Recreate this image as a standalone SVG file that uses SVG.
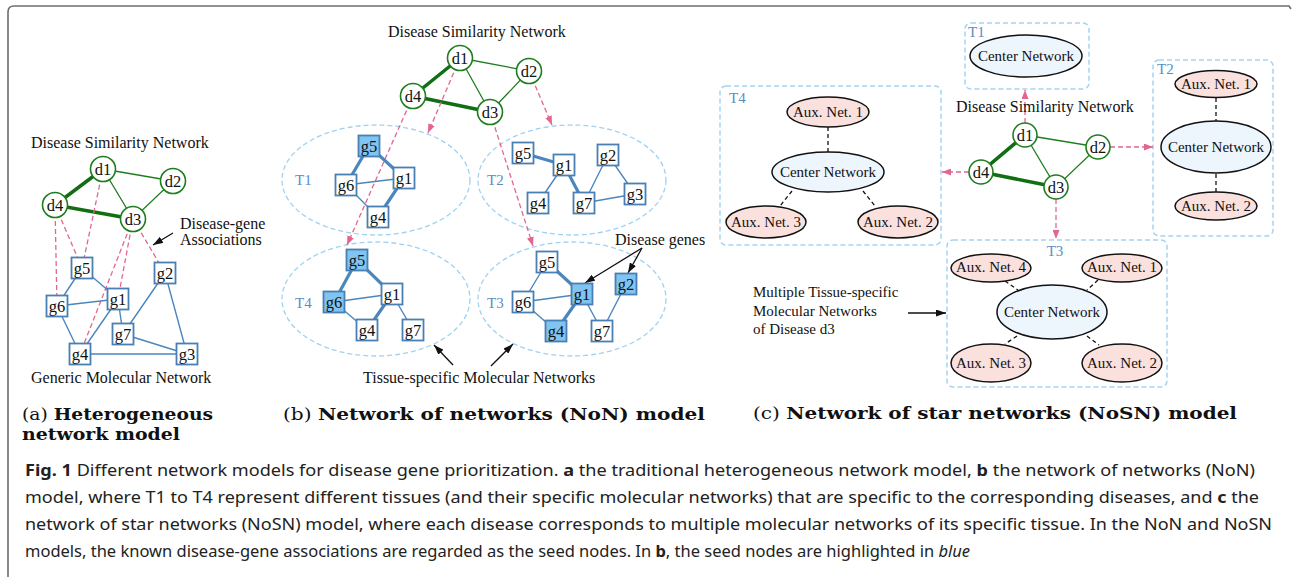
<svg xmlns="http://www.w3.org/2000/svg" width="1292" height="577" viewBox="0 0 1292 577">
<style>
text{font-family:"Liberation Serif","Times New Roman",serif;fill:#111}
.lbl{font-size:16px}
.nl{font-size:16.5px;text-anchor:middle}
.dn{fill:#fff;stroke:#1e7d1e;stroke-width:1.6}
.gb{fill:#fff;stroke:#4a7fb3;stroke-width:1.8}
.gf{fill:#80c4f1;stroke:#4a7fb3;stroke-width:1.8}
.eg{stroke:#1e7d1e;stroke-width:1.3;fill:none}
.egt{stroke:#126e12;stroke-width:3.5;fill:none}
.ge{stroke:#4b86bc;stroke-width:1.4;fill:none}
.get{stroke:#4b86bc;stroke-width:3.2;fill:none}
.pk{stroke:#e2668f;stroke-width:1.3;stroke-dasharray:5 3;fill:none}
.pka{stroke:#e2668f;stroke-width:1.3;stroke-dasharray:5 3;fill:none;marker-end:url(#pa)}
.tis{fill:none;stroke:#9fd2f1;stroke-width:1.3;stroke-dasharray:5 3}
.tl{font-size:15px;fill:#5a8ec2}
.bx{fill:none;stroke:#a3d4f3;stroke-width:1.5;stroke-dasharray:5 3}
.cn{fill:#edf5fd;stroke:#111;stroke-width:1.5}
.ax{fill:#fbe1de;stroke:#111;stroke-width:1.5}
.bd{stroke:#111;stroke-width:1.3;stroke-dasharray:4 3;fill:none}
.ar{stroke:#111;stroke-width:1.3;fill:none;marker-end:url(#ba)}
.ct{font-size:15px;text-anchor:middle}
.ml{font-size:15px}
.sub{font-family:"DejaVu Serif","Liberation Serif",serif;font-size:17px}
.cap{font-family:"Noto Sans","Liberation Sans",sans-serif;font-size:15.5px;fill:#222}
</style>
<defs>
<marker id="pa" markerWidth="9" markerHeight="7" refX="9" refY="3.5" orient="auto" markerUnits="userSpaceOnUse"><path d="M0,0 L9,3.5 L0,7 Z" fill="#e2668f"/></marker>
<marker id="ba" markerWidth="10" markerHeight="7" refX="10" refY="3.5" orient="auto" markerUnits="userSpaceOnUse"><path d="M0,0 L10,3.5 L0,7 Z" fill="#111"/></marker>
</defs>
<rect width="1292" height="577" fill="#fff"/>
<path d="M8,577 L8,12 Q8,6 14,6 L1289,6 L1291,9" fill="none" stroke="#6d6d6d" stroke-width="1.6"/>

<!-- tissue containers (b) -->
<g id="b-T1"><ellipse class="tis" cx="376" cy="180" rx="94" ry="55"/><text class="tl" x="295" y="185">T1</text></g>
<g id="b-T2"><ellipse class="tis" cx="572" cy="180" rx="94" ry="55"/><text class="tl" x="487" y="185">T2</text></g>
<g id="b-T4"><ellipse class="tis" cx="376" cy="299" rx="94" ry="57"/><text class="tl" x="295" y="308">T4</text></g>
<g id="b-T3"><ellipse class="tis" cx="572" cy="299" rx="94" ry="57"/><text class="tl" x="487" y="308">T3</text></g>

<!-- tissue boxes (c) -->
<g id="c-T1box"><rect class="bx" x="965" y="23" width="124" height="66" rx="6"/><text class="tl" x="968" y="37">T1</text></g>
<g id="c-T2box"><rect class="bx" x="1153" y="60" width="120" height="176" rx="6"/><text class="tl" x="1157" y="74">T2</text></g>
<g id="c-T4box"><rect class="bx" x="720" y="86" width="221" height="159" rx="6"/><text class="tl" x="729" y="103">T4</text></g>
<g id="c-T3box"><rect class="bx" x="947" y="240" width="220" height="147" rx="6"/><text class="tl" x="1055" y="256" text-anchor="middle">T3</text></g>

<g id="connectors">
<!-- panel a -->
<path class="egt" d="M103,169 L55,205 L133,219"/>
<path class="eg" d="M103,169 L173,181 L133,219 L103,169"/>
<path class="pk" d="M103,169 L82,268 M55,205 L82,268 M55,205 L57,306 M133,219 L80,354 M133,219 L118,299 M133,219 L165,273"/>
<path class="ge" d="M82,268 L57,306 M82,268 L118,299 M57,306 L118,299 M57,306 L80,354 M118,299 L80,354 M118,299 L123,334 M165,273 L123,334 M165,273 L187,354 M123,334 L187,354 M80,354 L187,354"/>
<path class="ar" d="M173,233 L153,245"/>
<!-- panel b -->
<path class="egt" d="M460,58 L413,96 L490,112"/>
<path class="eg" d="M460,58 L529,71 L490,112 L460,58"/>
<path class="pka" d="M460,58 L428,133"/>
<path class="pka" d="M413,96 L347,245"/>
<path class="pka" d="M529,71 L552,125"/>
<path class="pka" d="M490,112 L533,246"/>
<path class="get" d="M346,185 L369,146 L404,178 L378,217"/>
<path class="ge" d="M346,185 L404,178 M346,185 L378,217"/>
<path class="get" d="M523,153 L564,165 L584,203"/>
<path class="ge" d="M564,165 L538,203 M584,203 L608,155 L635,194 M584,203 L635,194"/>
<path class="get" d="M334,302 L357,260 L392,294 L367,330"/>
<path class="ge" d="M334,302 L392,294 M334,302 L367,330 M392,294 L413,330"/>
<path class="get" d="M547,262 L582,294 L556,331"/>
<path class="ge" d="M547,262 L523,302 M523,302 L582,294 M523,302 L556,331 M582,294 L602,331 M626,284 L602,331"/>
<path class="ar" d="M642,248 L585,283"/>
<path class="ar" d="M642,248 L628,273"/>
<path class="ar" d="M453,365 L434,345"/>
<path class="ar" d="M491,366 L513,344"/>
<!-- panel c -->
<path class="egt" d="M1025,135 L981,172 L1056,187"/>
<path class="eg" d="M1025,135 L1098,147 L1056,187 L1025,135"/>
<path class="pka" d="M1025,123 L1025,90"/>
<path class="pka" d="M1110,147 L1153,147"/>
<path class="pka" d="M969,172 L942,172"/>
<path class="pka" d="M1056,199 L1056,239"/>
<path class="bd" d="M1216,98 L1216,121 M1216,174 L1216,192"/>
<path class="bd" d="M828,127 L828,152 M792,191 L780,206 M863,191 L875,206"/>
<path class="bd" d="M1005,281 L1018,290 M1098,280 L1087,290 M1017,336 L1005,344 M1087,336 L1099,345"/>
<path class="ar" d="M908,313 L946,313"/>
</g>

<!-- panel a nodes -->
<g id="a-d1"><circle class="dn" cx="103" cy="169" r="12.5"/><text class="nl" x="103" y="174.5">d1</text></g>
<g id="a-d2"><circle class="dn" cx="173" cy="181" r="12.5"/><text class="nl" x="173" y="186.5">d2</text></g>
<g id="a-d4"><circle class="dn" cx="55" cy="205" r="12.5"/><text class="nl" x="55" y="210.5">d4</text></g>
<g id="a-d3"><circle class="dn" cx="133" cy="219" r="12.5"/><text class="nl" x="133" y="224.5">d3</text></g>
<g id="a-g5"><rect class="gb" x="71.5" y="257.5" width="21" height="21"/><text class="nl" x="82" y="273.5">g5</text></g>
<g id="a-g2"><rect class="gb" x="154.5" y="262.5" width="21" height="21"/><text class="nl" x="165" y="278.5">g2</text></g>
<g id="a-g6"><rect class="gb" x="46.5" y="295.5" width="21" height="21"/><text class="nl" x="57" y="311.5">g6</text></g>
<g id="a-g1"><rect class="gb" x="107.5" y="288.5" width="21" height="21"/><text class="nl" x="118" y="304.5">g1</text></g>
<g id="a-g7"><rect class="gb" x="112.5" y="323.5" width="21" height="21"/><text class="nl" x="123" y="339.5">g7</text></g>
<g id="a-g4"><rect class="gb" x="69.5" y="343.5" width="21" height="21"/><text class="nl" x="80" y="359.5">g4</text></g>
<g id="a-g3"><rect class="gb" x="176.5" y="343.5" width="21" height="21"/><text class="nl" x="187" y="359.5">g3</text></g>
<text class="lbl" x="31" y="148">Disease Similarity Network</text>
<text class="lbl" x="180" y="229">Disease-gene</text>
<text class="lbl" x="180" y="245">Associations</text>
<text class="lbl" x="31" y="383">Generic Molecular Network</text>

<!-- panel b nodes -->
<text class="lbl" x="388" y="37">Disease Similarity Network</text>
<g id="b-d1"><circle class="dn" cx="460" cy="58" r="12.5"/><text class="nl" x="460" y="63.5">d1</text></g>
<g id="b-d2"><circle class="dn" cx="529" cy="71" r="12.5"/><text class="nl" x="529" y="76.5">d2</text></g>
<g id="b-d4"><circle class="dn" cx="413" cy="96" r="12.5"/><text class="nl" x="413" y="101.5">d4</text></g>
<g id="b-d3"><circle class="dn" cx="490" cy="112" r="12.5"/><text class="nl" x="490" y="117.5">d3</text></g>
<g id="b-T1-g5"><rect class="gf" x="358.5" y="135.5" width="21" height="21"/><text class="nl" x="369" y="151.5">g5</text></g>
<g id="b-T1-g1"><rect class="gb" x="393.5" y="167.5" width="21" height="21"/><text class="nl" x="404" y="183.5">g1</text></g>
<g id="b-T1-g6"><rect class="gb" x="335.5" y="174.5" width="21" height="21"/><text class="nl" x="346" y="190.5">g6</text></g>
<g id="b-T1-g4"><rect class="gb" x="367.5" y="206.5" width="21" height="21"/><text class="nl" x="378" y="222.5">g4</text></g>
<g id="b-T2-g5"><rect class="gb" x="512.5" y="142.5" width="21" height="21"/><text class="nl" x="523" y="158.5">g5</text></g>
<g id="b-T2-g1"><rect class="gb" x="553.5" y="154.5" width="21" height="21"/><text class="nl" x="564" y="170.5">g1</text></g>
<g id="b-T2-g2"><rect class="gb" x="597.5" y="144.5" width="21" height="21"/><text class="nl" x="608" y="160.5">g2</text></g>
<g id="b-T2-g3"><rect class="gb" x="624.5" y="183.5" width="21" height="21"/><text class="nl" x="635" y="199.5">g3</text></g>
<g id="b-T2-g4"><rect class="gb" x="527.5" y="192.5" width="21" height="21"/><text class="nl" x="538" y="208.5">g4</text></g>
<g id="b-T2-g7"><rect class="gb" x="573.5" y="192.5" width="21" height="21"/><text class="nl" x="584" y="208.5">g7</text></g>
<g id="b-T4-g5"><rect class="gf" x="346.5" y="249.5" width="21" height="21"/><text class="nl" x="357" y="265.5">g5</text></g>
<g id="b-T4-g6"><rect class="gf" x="323.5" y="291.5" width="21" height="21"/><text class="nl" x="334" y="307.5">g6</text></g>
<g id="b-T4-g1"><rect class="gb" x="381.5" y="283.5" width="21" height="21"/><text class="nl" x="392" y="299.5">g1</text></g>
<g id="b-T4-g4"><rect class="gb" x="356.5" y="319.5" width="21" height="21"/><text class="nl" x="367" y="335.5">g4</text></g>
<g id="b-T4-g7"><rect class="gb" x="402.5" y="319.5" width="21" height="21"/><text class="nl" x="413" y="335.5">g7</text></g>
<g id="b-T3-g5"><rect class="gb" x="536.5" y="251.5" width="21" height="21"/><text class="nl" x="547" y="267.5">g5</text></g>
<g id="b-T3-g1"><rect class="gf" x="571.5" y="283.5" width="21" height="21"/><text class="nl" x="582" y="299.5">g1</text></g>
<g id="b-T3-g2"><rect class="gf" x="615.5" y="273.5" width="21" height="21"/><text class="nl" x="626" y="289.5">g2</text></g>
<g id="b-T3-g6"><rect class="gb" x="512.5" y="291.5" width="21" height="21"/><text class="nl" x="523" y="307.5">g6</text></g>
<g id="b-T3-g4"><rect class="gf" x="545.5" y="320.5" width="21" height="21"/><text class="nl" x="556" y="336.5">g4</text></g>
<g id="b-T3-g7"><rect class="gb" x="591.5" y="320.5" width="21" height="21"/><text class="nl" x="602" y="336.5">g7</text></g>
<text class="lbl" x="615" y="245">Disease genes</text>
<text class="lbl" x="363" y="383">Tissue-specific Molecular Networks</text>

<!-- panel c nodes -->
<text class="lbl" x="956" y="112">Disease Similarity Network</text>
<g id="c-d1"><circle class="dn" cx="1025" cy="135" r="12"/><text class="nl" x="1025" y="140.5">d1</text></g>
<g id="c-d2"><circle class="dn" cx="1098" cy="147" r="12"/><text class="nl" x="1098" y="152.5">d2</text></g>
<g id="c-d4"><circle class="dn" cx="981" cy="172" r="12"/><text class="nl" x="981" y="177.5">d4</text></g>
<g id="c-d3"><circle class="dn" cx="1056" cy="187" r="12"/><text class="nl" x="1056" y="192.5">d3</text></g>
<g id="c-T1-center"><ellipse class="cn" cx="1026" cy="56" rx="56" ry="21"/><text class="ct" x="1026" y="61">Center Network</text></g>
<g id="c-T2-aux1"><ellipse class="ax" cx="1216" cy="84" rx="41" ry="13.5"/><text class="ct" x="1216" y="89">Aux. Net. 1</text></g>
<g id="c-T2-center"><ellipse class="cn" cx="1216" cy="147" rx="55" ry="26"/><text class="ct" x="1216" y="152">Center Network</text></g>
<g id="c-T2-aux2"><ellipse class="ax" cx="1216" cy="206" rx="41" ry="14"/><text class="ct" x="1216" y="211">Aux. Net. 2</text></g>
<g id="c-T4-aux1"><ellipse class="ax" cx="828" cy="112" rx="41" ry="15"/><text class="ct" x="828" y="117">Aux. Net. 1</text></g>
<g id="c-T4-center"><ellipse class="cn" cx="828" cy="172" rx="56" ry="20"/><text class="ct" x="828" y="177">Center Network</text></g>
<g id="c-T4-aux3"><ellipse class="ax" cx="766" cy="222" rx="40" ry="16"/><text class="ct" x="766" y="227">Aux. Net. 3</text></g>
<g id="c-T4-aux2"><ellipse class="ax" cx="898" cy="222" rx="40" ry="16"/><text class="ct" x="898" y="227">Aux. Net. 2</text></g>
<g id="c-T3-aux4"><ellipse class="ax" cx="991" cy="268" rx="40" ry="14"/><text class="ct" x="991" y="272">Aux. Net. 4</text></g>
<g id="c-T3-aux1"><ellipse class="ax" cx="1122" cy="268" rx="40" ry="14"/><text class="ct" x="1122" y="272">Aux. Net. 1</text></g>
<g id="c-T3-center"><ellipse class="cn" cx="1052" cy="312" rx="55" ry="27"/><text class="ct" x="1052" y="317">Center Network</text></g>
<g id="c-T3-aux3"><ellipse class="ax" cx="991" cy="363" rx="40" ry="19"/><text class="ct" x="991" y="368">Aux. Net. 3</text></g>
<g id="c-T3-aux2"><ellipse class="ax" cx="1122" cy="363" rx="40" ry="19"/><text class="ct" x="1122" y="368">Aux. Net. 2</text></g>
<text class="ml" x="753" y="297">Multiple Tissue-specific</text>
<text class="ml" x="753" y="316">Molecular Networks</text>
<text class="ml" x="753" y="334">of Disease d3</text>

<!-- sub captions -->
<text class="sub" x="22" y="420" textLength="191" lengthAdjust="spacingAndGlyphs">(a) <tspan font-weight="bold">Heterogeneous</tspan></text>
<text class="sub" x="22" y="440" font-weight="bold" textLength="158" lengthAdjust="spacingAndGlyphs">network model</text>
<text class="sub" x="283" y="420" textLength="422" lengthAdjust="spacingAndGlyphs">(b) <tspan font-weight="bold">Network of networks (NoN) model</tspan></text>
<text class="sub" x="753" y="419" textLength="484" lengthAdjust="spacingAndGlyphs">(c) <tspan font-weight="bold">Network of star networks (NoSN) model</tspan></text>

<!-- figure caption -->
<text class="cap" x="25" y="476" textLength="1230" lengthAdjust="spacingAndGlyphs"><tspan font-weight="bold">Fig. 1</tspan> Different network models for disease gene prioritization. <tspan font-weight="bold">a</tspan> the traditional heterogeneous network model, <tspan font-weight="bold">b</tspan> the network of networks (NoN)</text>
<text class="cap" x="25" y="503" textLength="1234" lengthAdjust="spacingAndGlyphs">model, where T1 to T4 represent different tissues (and their specific molecular networks) that are specific to the corresponding diseases, and <tspan font-weight="bold">c</tspan> the</text>
<text class="cap" x="25" y="530" textLength="1247" lengthAdjust="spacingAndGlyphs">network of star networks (NoSN) model, where each disease corresponds to multiple molecular networks of its specific tissue. In the NoN and NoSN</text>
<text class="cap" x="25" y="557" textLength="945" lengthAdjust="spacingAndGlyphs">models, the known disease-gene associations are regarded as the seed nodes. In <tspan font-weight="bold">b</tspan>, the seed nodes are highlighted in <tspan font-style="italic">blue</tspan></text>
</svg>
